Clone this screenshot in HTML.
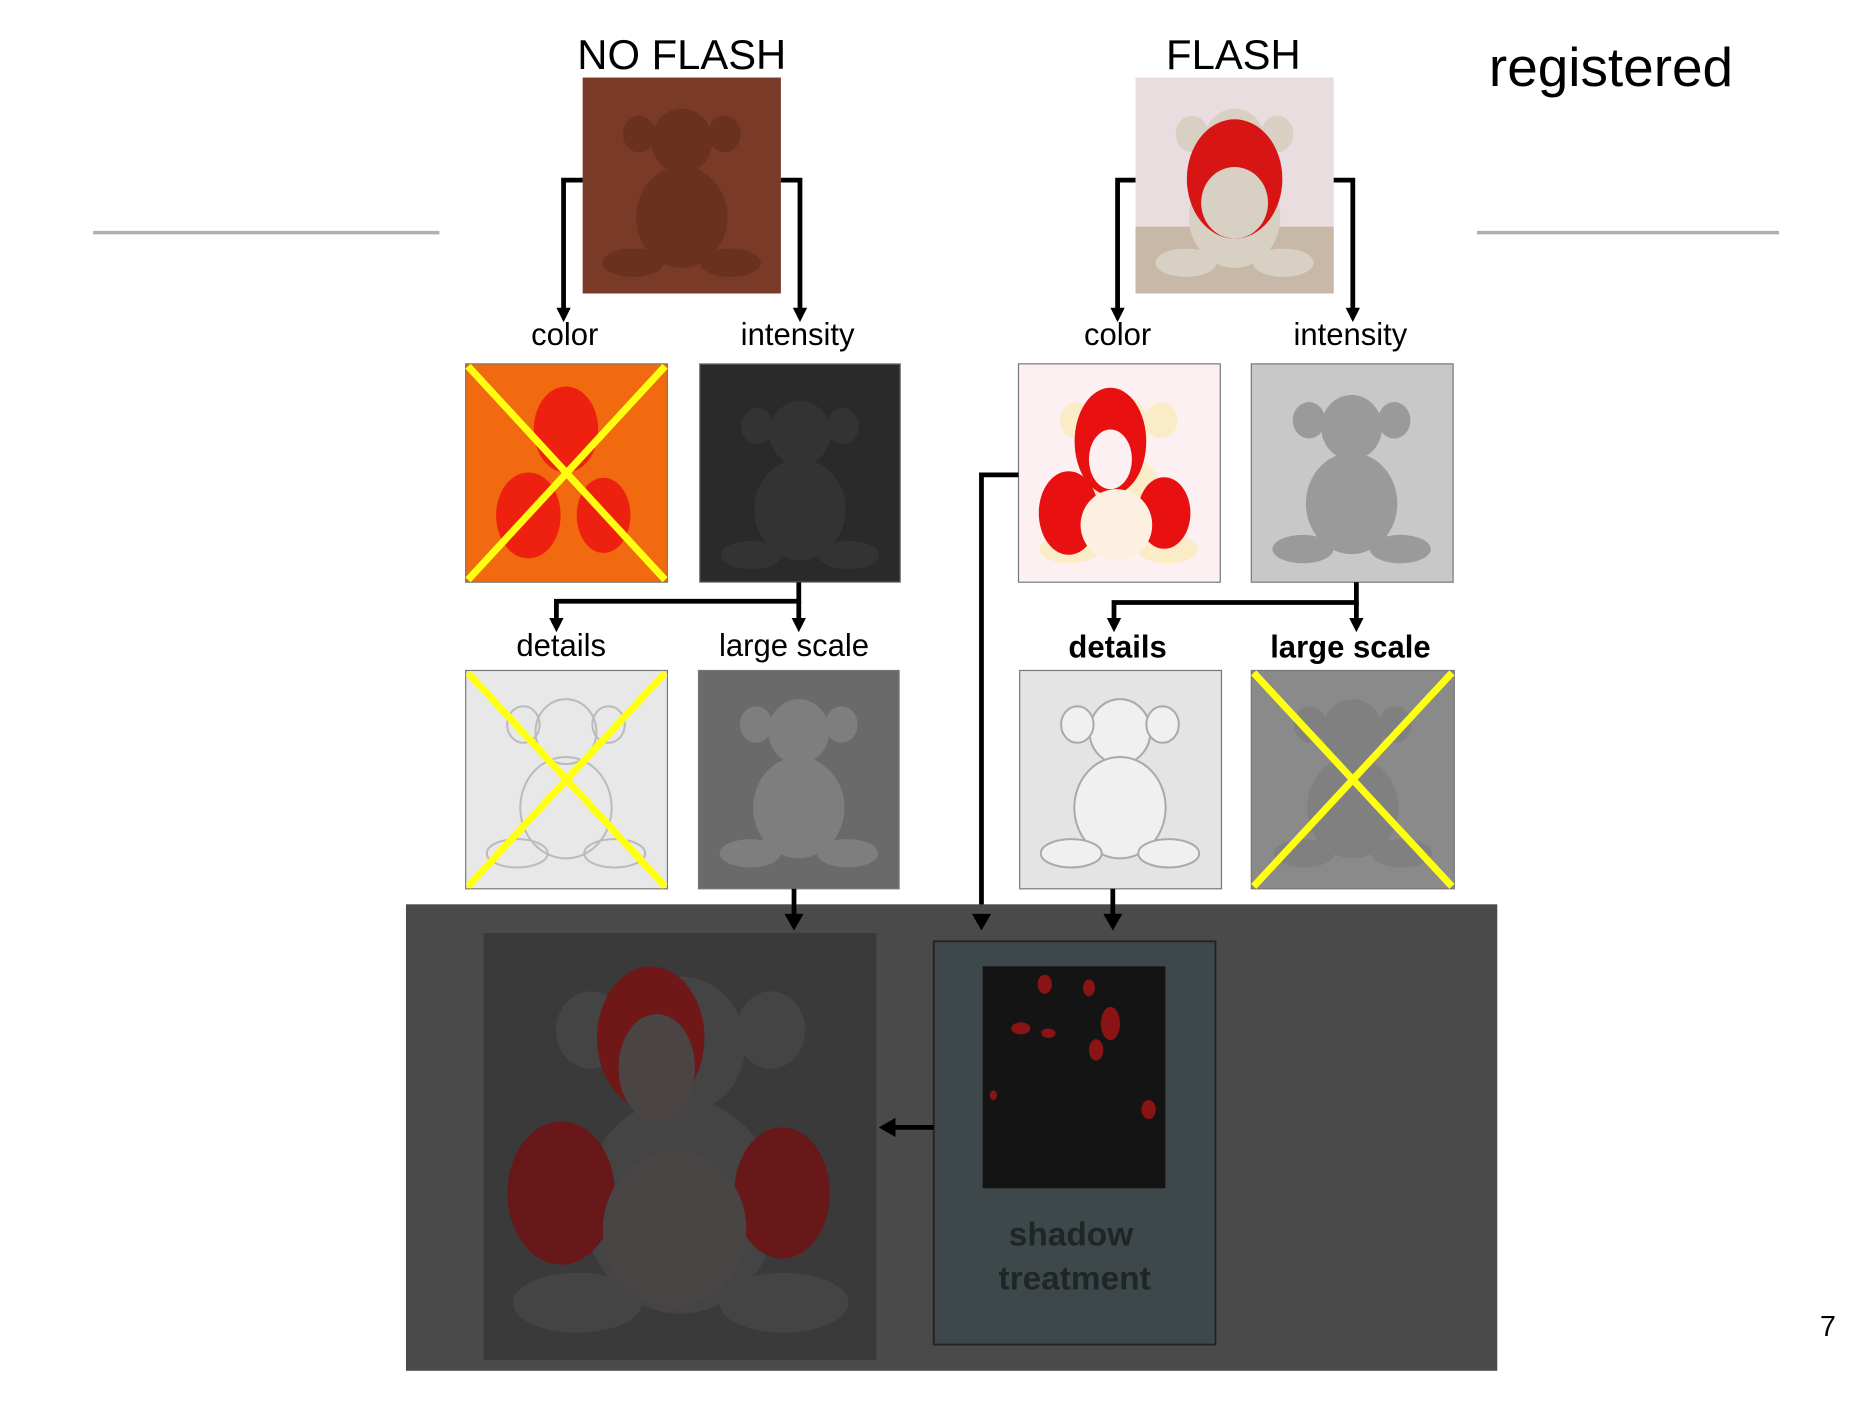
<!DOCTYPE html>
<html><head><meta charset="utf-8"><style>
html,body{margin:0;padding:0;background:#fff;}
svg{display:block;}
text{font-family:"Liberation Sans",sans-serif;}
</style></head><body>
<svg width="1871" height="1403" viewBox="0 0 1567 1176" preserveAspectRatio="none" xmlns="http://www.w3.org/2000/svg">
<defs>
<g id="monkey">
 <ellipse cx="0" cy="-55" rx="30" ry="32"/>
 <ellipse cx="-42" cy="-62" rx="16" ry="18"/>
 <ellipse cx="42" cy="-62" rx="16" ry="18"/>
 <ellipse cx="0" cy="20" rx="45" ry="50"/>
 <ellipse cx="-48" cy="65" rx="30" ry="14"/>
 <ellipse cx="48" cy="65" rx="30" ry="14"/>
</g>
</defs>
<rect width="1567" height="1176" fill="#fff"/>

<text x="571" y="58" font-size="35" text-anchor="middle">NO FLASH</text>
<text x="1033" y="58" font-size="35" text-anchor="middle">FLASH</text>
<text x="1247" y="72" font-size="46">registered</text>
<line x1="78" y1="195" x2="368" y2="195" stroke="#b0b0b0" stroke-width="3"/>
<line x1="1237" y1="195" x2="1490" y2="195" stroke="#b0b0b0" stroke-width="3"/>

<rect x="488" y="65" width="166" height="181" fill="#7a3a28"/>
<g transform="translate(571,165) scale(0.85)" fill="#6a3020"><use href="#monkey"/></g>
<rect x="951" y="65" width="166" height="181" fill="#e9dde0"/>
<rect x="951" y="190" width="166" height="56" fill="#c8b8a8"/>
<g transform="translate(1034,165) scale(0.85)" fill="#d9d0c4"><use href="#monkey"/></g>
<ellipse cx="1034" cy="150" rx="40" ry="50" fill="#d81515"/>
<ellipse cx="1034" cy="170" rx="28" ry="30" fill="#d9d0c4"/>

<g stroke="#000" stroke-width="4" fill="none">
<polyline points="488,151 472,151 472,262"/>
<polyline points="654,151 670,151 670,262"/>
<polyline points="951,151 936,151 936,262"/>
<polyline points="1117,151 1133,151 1133,262"/>
</g>
<g fill="#000">
<polygon points="466,258 478,258 472,270"/>
<polygon points="664,258 676,258 670,270"/>
<polygon points="930,258 942,258 936,270"/>
<polygon points="1127,258 1139,258 1133,270"/>
</g>
<g font-size="26" text-anchor="middle">
<text x="473" y="289">color</text>
<text x="668" y="289">intensity</text>
<text x="936" y="289">color</text>
<text x="1131" y="289">intensity</text>
</g>

<rect x="390" y="305" width="169" height="183" fill="#f26a10" stroke="#777" stroke-width="1"/>
<g transform="translate(474,405) scale(0.9)" fill="#ee2010"><ellipse cx="0" cy="-50" rx="30" ry="40"/><ellipse cx="-35" cy="30" rx="30" ry="40"/><ellipse cx="35" cy="30" rx="25" ry="35"/></g>
<g stroke="#ffff10" stroke-width="6"><line x1="392" y1="307" x2="557" y2="486"/><line x1="557" y1="307" x2="392" y2="486"/></g>
<rect x="586" y="305" width="168" height="183" fill="#2a2a2a" stroke="#777" stroke-width="1"/>
<g transform="translate(670,410) scale(0.85)" fill="#333"><use href="#monkey"/></g>
<rect x="853" y="305" width="169" height="183" fill="#fdf0f2" stroke="#777" stroke-width="1"/>
<g transform="translate(937,405) scale(0.85)" fill="#fbecc8"><use href="#monkey"/></g>
<ellipse cx="930" cy="370" rx="30" ry="45" fill="#e81010"/>
<ellipse cx="930" cy="385" rx="18" ry="25" fill="#fdf0f2"/>
<ellipse cx="895" cy="430" rx="25" ry="35" fill="#e81010"/>
<ellipse cx="975" cy="430" rx="22" ry="30" fill="#e81010"/>
<ellipse cx="935" cy="440" rx="30" ry="30" fill="#fdf0e0"/>
<rect x="1048" y="305" width="169" height="183" fill="#c8c8c8" stroke="#777" stroke-width="1"/>
<g transform="translate(1132,405) scale(0.85)" fill="#9a9a9a"><use href="#monkey"/></g>

<g stroke="#000" stroke-width="4" fill="none">
<polyline points="669,488 669,504 466,504 466,522"/>
<line x1="669" y1="504" x2="669" y2="522"/>
<polyline points="1136,488 1136,505 933,505 933,522"/>
<line x1="1136" y1="505" x2="1136" y2="522"/>
<polyline points="853,398 822,398 822,770"/>
</g>
<g fill="#000">
<polygon points="460,518 472,518 466,530"/>
<polygon points="663,518 675,518 669,530"/>
<polygon points="927,518 939,518 933,530"/>
<polygon points="1130,518 1142,518 1136,530"/>
</g>
<g font-size="26" text-anchor="middle">
<text x="470" y="550">details</text>
<text x="665" y="550">large scale</text>
<text x="936" y="551" font-weight="bold">details</text>
<text x="1131" y="551" font-weight="bold">large scale</text>
</g>

<rect x="390" y="562" width="169" height="183" fill="#e8e8e8" stroke="#777" stroke-width="1"/>
<g transform="translate(474,660) scale(0.85)" fill="none" stroke="#bbb" stroke-width="2"><use href="#monkey"/></g>
<g stroke="#ffff10" stroke-width="6"><line x1="392" y1="564" x2="557" y2="743"/><line x1="557" y1="564" x2="392" y2="743"/></g>
<rect x="585" y="562" width="168" height="183" fill="#6a6a6a" stroke="#777" stroke-width="1"/>
<g transform="translate(669,660) scale(0.85)" fill="#7e7e7e"><use href="#monkey"/></g>
<rect x="854" y="562" width="169" height="183" fill="#e4e4e4" stroke="#777" stroke-width="1"/>
<g transform="translate(938,660) scale(0.85)" fill="#f0f0f0" stroke="#aaa" stroke-width="2"><use href="#monkey"/></g>
<rect x="1048" y="562" width="170" height="183" fill="#8a8a8a" stroke="#777" stroke-width="1"/>
<g transform="translate(1133,660) scale(0.85)" fill="#808080"><use href="#monkey"/></g>
<g stroke="#ffff10" stroke-width="6"><line x1="1050" y1="564" x2="1216" y2="743"/><line x1="1216" y1="564" x2="1050" y2="743"/></g>

<rect x="340" y="758" width="914" height="391" fill="#4a4a4a"/>
<rect x="405" y="782" width="329" height="358" fill="#3a3a3a"/>
<g transform="translate(570,975) scale(1.8)" fill="#444"><use href="#monkey"/></g>
<ellipse cx="545" cy="870" rx="45" ry="60" fill="#701818"/>
<ellipse cx="550" cy="895" rx="32" ry="45" fill="#4a4444"/>
<ellipse cx="470" cy="1000" rx="45" ry="60" fill="#681818"/>
<ellipse cx="655" cy="1000" rx="40" ry="55" fill="#681818"/>
<ellipse cx="565" cy="1030" rx="60" ry="65" fill="#4a4545"/>
<rect x="782" y="789" width="236" height="338" fill="#3e4749" stroke="#222" stroke-width="1.5"/>
<rect x="823" y="810" width="153" height="186" fill="#141414"/>
<g fill="#8a1414">
<ellipse cx="875" cy="825" rx="6" ry="8"/><ellipse cx="912" cy="828" rx="5" ry="7"/>
<ellipse cx="930" cy="858" rx="8" ry="14"/><ellipse cx="918" cy="880" rx="6" ry="9"/>
<ellipse cx="855" cy="862" rx="8" ry="5"/><ellipse cx="878" cy="866" rx="6" ry="4"/>
<ellipse cx="962" cy="930" rx="6" ry="8"/><ellipse cx="832" cy="918" rx="3" ry="4"/>
</g>
<g font-size="28" font-weight="bold" fill="#1e2628" text-anchor="middle">
<text x="897" y="1044">shadow</text>
<text x="900" y="1081">treatment</text>
</g>
<g stroke="#000" stroke-width="4"><line x1="665" y1="745" x2="665" y2="770"/><line x1="932" y1="745" x2="932" y2="770"/><line x1="782" y1="945" x2="748" y2="945"/></g>
<g fill="#000">
<polygon points="657,766 673,766 665,780"/>
<polygon points="814,766 830,766 822,780"/>
<polygon points="924,766 940,766 932,780"/>
<polygon points="750,937 750,953 736,945"/>
</g>
<text x="1531" y="1120" font-size="24" text-anchor="middle">7</text>
</svg>
</body></html>
